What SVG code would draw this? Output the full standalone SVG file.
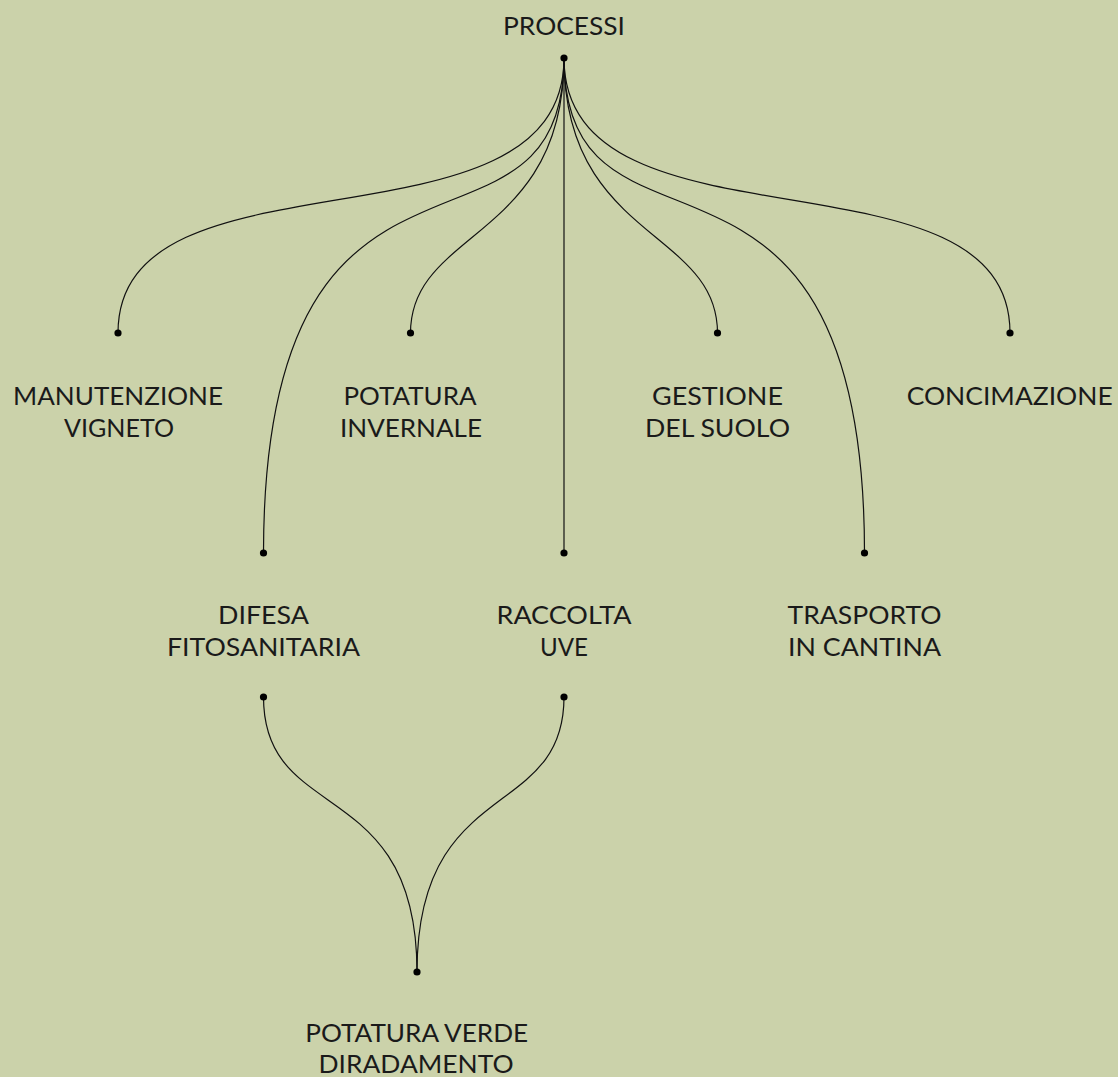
<svg xmlns="http://www.w3.org/2000/svg" width="1118" height="1077" viewBox="0 0 1118 1077">
<style>
.bg{fill:#cbd2aa}
.lnk{fill:none;stroke:#111;stroke-width:1.2}
.dot{fill:#000}
.lbl{font-family:Lato,"Liberation Sans",sans-serif;font-size:25px;font-weight:400;fill:#1a1a1a;text-anchor:middle}
</style>
<rect class="bg" x="0" y="0" width="1118" height="1077"/>
<g id="connectors">
<path class="lnk" d="M564,58 C564,263 118,138 118,333"/>
<path class="lnk" d="M564,58 C564,240 410.5,229 410.5,333"/>
<path class="lnk" d="M564,58 C564,240 717.5,229 717.5,333"/>
<path class="lnk" d="M564,58 C564,263 1010,138 1010,333"/>
<path class="lnk" d="M564,58 C564,293.5 263.5,78.8 263.5,553"/>
<path class="lnk" d="M564,58 C564,293.5 864.5,78.8 864.5,553"/>
<path class="lnk" d="M564,58 L564,553"/>
<path class="lnk" d="M263.5,697 C263.5,826 417,774 417,972"/>
<path class="lnk" d="M564,697 C564,822 417,775 417,972"/>
</g>
<g id="processi">
<circle class="dot" cx="564" cy="58" r="3.6"/>
<text class="lbl" x="564" y="35" textLength="122" lengthAdjust="spacingAndGlyphs">PROCESSI</text>
</g>
<g id="manutenzione-vigneto">
<circle class="dot" cx="118" cy="333" r="3.6"/>
<text class="lbl" x="118" y="405" textLength="210" lengthAdjust="spacingAndGlyphs">MANUTENZIONE</text>
<text class="lbl" x="119" y="437" textLength="110" lengthAdjust="spacingAndGlyphs">VIGNETO</text>
</g>
<g id="potatura-invernale">
<circle class="dot" cx="410.5" cy="333" r="3.6"/>
<text class="lbl" x="410" y="405" textLength="133" lengthAdjust="spacingAndGlyphs">POTATURA</text>
<text class="lbl" x="411" y="437" textLength="142" lengthAdjust="spacingAndGlyphs">INVERNALE</text>
</g>
<g id="gestione-del-suolo">
<circle class="dot" cx="717.5" cy="333" r="3.6"/>
<text class="lbl" x="717.5" y="405" textLength="131" lengthAdjust="spacingAndGlyphs">GESTIONE</text>
<text class="lbl" x="717.5" y="437" textLength="145" lengthAdjust="spacingAndGlyphs">DEL SUOLO</text>
</g>
<g id="concimazione">
<circle class="dot" cx="1010" cy="333" r="3.6"/>
<text class="lbl" x="1009.7" y="405" textLength="206" lengthAdjust="spacingAndGlyphs">CONCIMAZIONE</text>
</g>
<g id="difesa-fitosanitaria">
<circle class="dot" cx="263.5" cy="553" r="3.6"/>
<circle class="dot" cx="263.5" cy="697" r="3.6"/>
<text class="lbl" x="263.5" y="624" textLength="91" lengthAdjust="spacingAndGlyphs">DIFESA</text>
<text class="lbl" x="263.5" y="656" textLength="193" lengthAdjust="spacingAndGlyphs">FITOSANITARIA</text>
</g>
<g id="raccolta-uve">
<circle class="dot" cx="564" cy="553" r="3.6"/>
<circle class="dot" cx="564" cy="697" r="3.6"/>
<text class="lbl" x="564" y="624" textLength="135" lengthAdjust="spacingAndGlyphs">RACCOLTA</text>
<text class="lbl" x="564" y="656" textLength="48" lengthAdjust="spacingAndGlyphs">UVE</text>
</g>
<g id="trasporto-in-cantina">
<circle class="dot" cx="864.5" cy="553" r="3.6"/>
<text class="lbl" x="864.5" y="624" textLength="154" lengthAdjust="spacingAndGlyphs">TRASPORTO</text>
<text class="lbl" x="864.5" y="656" textLength="153" lengthAdjust="spacingAndGlyphs">IN CANTINA</text>
</g>
<g id="potatura-verde-diradamento">
<circle class="dot" cx="417" cy="972" r="3.6"/>
<text class="lbl" x="416.7" y="1042" textLength="223" lengthAdjust="spacingAndGlyphs">POTATURA VERDE</text>
<text class="lbl" x="416" y="1073" textLength="195" lengthAdjust="spacingAndGlyphs">DIRADAMENTO</text>
</g>
</svg>
